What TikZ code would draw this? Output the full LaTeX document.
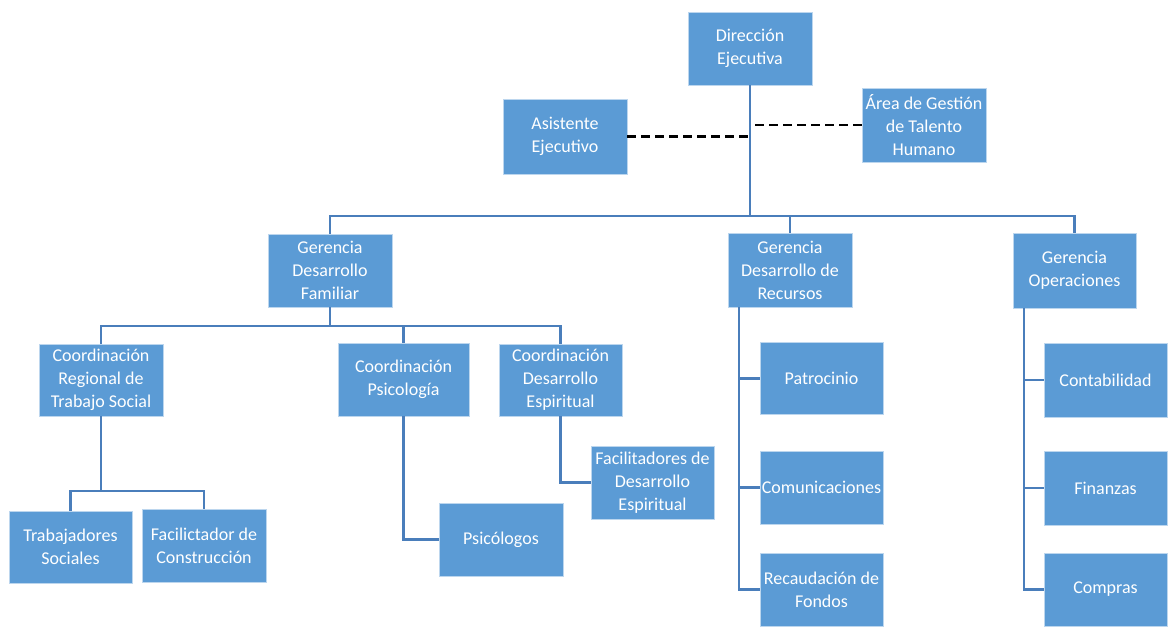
\documentclass[tikz,border=0pt]{standalone}
\usepackage{fontspec}
\setmainfont{Carlito}
\definecolor{boxfill}{HTML}{5B9BD5}
\definecolor{boxedge}{HTML}{BCD6EE}
\definecolor{linkblue}{HTML}{4A7EBB}
\begin{document}
\begin{tikzpicture}[x=1pt,y=-1pt,
  unit/.style={rectangle, fill=boxfill, draw=boxedge, line width=0.8pt,
    inner sep=0pt, align=center, text=white,
    minimum width=124pt, minimum height=73pt,
    font=\fontsize{18}{23}\selectfont},
  link/.style={draw=linkblue, line width=2.4pt},
  staff/.style={draw=black, line width=2.2pt, dash pattern=on 9pt off 5pt}]
\useasboundingbox (0,0) rectangle (1169,626);

% top level
\node[unit] (dir)  at (750,48.5)  {Dirección\\Ejecutiva};
\node[unit, minimum height=75pt] (asis) at (565,136.5) {Asistente\\Ejecutivo};
\node[unit, minimum height=74pt] (area) at (924,125)   {Área de Gestión\\de Talento\\Humano};

% managements
\node[unit] (gdf) at (330,270.5)    {Gerencia\\Desarrollo\\Familiar};
\node[unit, minimum height=74pt] (gdr) at (790,270)    {Gerencia\\Desarrollo de\\Recursos};
\node[unit, minimum width=123pt, minimum height=75pt] (gop) at (1074.5,270.5) {Gerencia\\Operaciones};

% coordinations
\node[unit, minimum height=72pt] (crts) at (101,380)   {Coordinación\\Regional de\\Trabajo Social};
\node[unit, minimum width=131pt] (cpsi) at (403.5,379.5) {Coordinación\\Psicología};
\node[unit, minimum width=123pt, minimum height=72pt] (cde) at (560.5,380) {Coordinación\\Desarrollo\\Espiritual};

% staff units
\node[unit, minimum width=123pt, minimum height=72pt] (ts) at (70.5,547) {Trabajadores\\Sociales};
\node[unit] (fc)  at (204,545.5)   {Facilictador de\\Construcción};
\node[unit] (psi) at (501,539.5)   {Psicólogos};
\node[unit, minimum width=123pt] (fde) at (652.5,482.5) {Facilitadores de\\Desarrollo\\Espiritual};

% resources
\node[unit, minimum width=123pt, minimum height=72pt] (pat) at (821.5,378.5) {Patrocinio};
\node[unit, minimum width=123pt] (com) at (821.5,487.5) {Comunicaciones};
\node[unit, minimum width=123pt] (rec) at (821.5,589.5) {Recaudación de\\Fondos};

% operations
\node[unit, minimum width=123pt, minimum height=74pt] (con) at (1105.5,380) {Contabilidad};
\node[unit, minimum width=123pt, minimum height=74pt] (fin) at (1105.5,488) {Finanzas};
\node[unit, minimum width=123pt] (cmp) at (1105.5,589.5) {Compras};

% junction points
\coordinate (bus1) at (750,216);
\coordinate (bus2) at (330,326);
\coordinate (bus3) at (101,491);
\coordinate (rtop) at (739,307);
\coordinate (otop) at (1024,308);

% main trunk and first bus
\path[link] (dir.south) -- (bus1);
\path[link] (gdf.north) |- (bus1) -| (gop.north);
\path[link] (gdr.north) -- (gdr.north |- bus1);

% staff dashed links
\path[staff] (asis.east) -- (asis.east -| dir.south);
\path[staff] (area.west) -- (area.west -| dir.south);

% family development branch
\path[link] (gdf.south) -- (bus2);
\path[link] (crts.north) |- (bus2) -| (cde.north);
\path[link] (cpsi.north) -- (cpsi.north |- bus2);

\path[link] (crts.south) -- (bus3);
\path[link] (ts.north) |- (bus3) -| (fc.north);

\path[link] (cpsi.south) |- (psi.west);
\path[link] (cde.south) |- (fde.west);

% resources branch
\path[link] (rtop) |- (rec.west);
\path[link] (rtop |- pat.west) -- (pat.west);
\path[link] (rtop |- com.west) -- (com.west);

% operations branch
\path[link] (otop) |- (cmp.west);
\path[link] (otop |- con.west) -- (con.west);
\path[link] (otop |- fin.west) -- (fin.west);
\end{tikzpicture}
\end{document}
